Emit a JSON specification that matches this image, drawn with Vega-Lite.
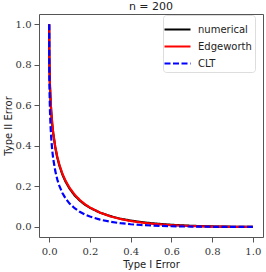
{
  "$schema": "https://vega.github.io/schema/vega-lite/v6.json",
  "width": 224,
  "height": 223,
  "autosize": {"type": "none"},
  "padding": {"left": 39, "top": 14, "right": 3, "bottom": 35},
  "title": {"text": "n = 200", "font": "DejaVu Sans", "fontSize": 11, "fontWeight": "normal", "color": "#222", "offset": 2},
  "data": {"values": [
    {"a": 0, "b": 1, "s": "numerical"},
    {"a": 0.0005, "b": 0.873, "s": "numerical"},
    {"a": 0.001, "b": 0.826, "s": "numerical"},
    {"a": 0.002, "b": 0.767, "s": "numerical"},
    {"a": 0.004, "b": 0.692, "s": "numerical"},
    {"a": 0.007, "b": 0.621, "s": "numerical"},
    {"a": 0.01, "b": 0.57, "s": "numerical"},
    {"a": 0.015, "b": 0.507, "s": "numerical"},
    {"a": 0.02, "b": 0.46, "s": "numerical"},
    {"a": 0.03, "b": 0.391, "s": "numerical"},
    {"a": 0.04, "b": 0.341, "s": "numerical"},
    {"a": 0.05, "b": 0.303, "s": "numerical"},
    {"a": 0.065, "b": 0.258, "s": "numerical"},
    {"a": 0.08, "b": 0.224, "s": "numerical"},
    {"a": 0.1, "b": 0.189, "s": "numerical"},
    {"a": 0.125, "b": 0.155, "s": "numerical"},
    {"a": 0.15, "b": 0.13, "s": "numerical"},
    {"a": 0.175, "b": 0.11, "s": "numerical"},
    {"a": 0.2, "b": 0.094, "s": "numerical"},
    {"a": 0.25, "b": 0.07, "s": "numerical"},
    {"a": 0.3, "b": 0.053, "s": "numerical"},
    {"a": 0.35, "b": 0.04, "s": "numerical"},
    {"a": 0.4, "b": 0.031, "s": "numerical"},
    {"a": 0.45, "b": 0.024, "s": "numerical"},
    {"a": 0.5, "b": 0.018, "s": "numerical"},
    {"a": 0.6, "b": 0.01, "s": "numerical"},
    {"a": 0.7, "b": 0.005, "s": "numerical"},
    {"a": 0.8, "b": 0.002, "s": "numerical"},
    {"a": 0.9, "b": 0.0005, "s": "numerical"},
    {"a": 1.0, "b": 0, "s": "numerical"},
    {"a": 0, "b": 1, "s": "Edgeworth"},
    {"a": 0.0005, "b": 0.873, "s": "Edgeworth"},
    {"a": 0.001, "b": 0.826, "s": "Edgeworth"},
    {"a": 0.002, "b": 0.767, "s": "Edgeworth"},
    {"a": 0.004, "b": 0.692, "s": "Edgeworth"},
    {"a": 0.007, "b": 0.621, "s": "Edgeworth"},
    {"a": 0.01, "b": 0.57, "s": "Edgeworth"},
    {"a": 0.015, "b": 0.508, "s": "Edgeworth"},
    {"a": 0.02, "b": 0.462, "s": "Edgeworth"},
    {"a": 0.03, "b": 0.394, "s": "Edgeworth"},
    {"a": 0.04, "b": 0.345, "s": "Edgeworth"},
    {"a": 0.05, "b": 0.307, "s": "Edgeworth"},
    {"a": 0.065, "b": 0.262, "s": "Edgeworth"},
    {"a": 0.08, "b": 0.228, "s": "Edgeworth"},
    {"a": 0.1, "b": 0.193, "s": "Edgeworth"},
    {"a": 0.125, "b": 0.159, "s": "Edgeworth"},
    {"a": 0.15, "b": 0.133, "s": "Edgeworth"},
    {"a": 0.175, "b": 0.112, "s": "Edgeworth"},
    {"a": 0.2, "b": 0.0955, "s": "Edgeworth"},
    {"a": 0.25, "b": 0.07, "s": "Edgeworth"},
    {"a": 0.3, "b": 0.052, "s": "Edgeworth"},
    {"a": 0.35, "b": 0.0388, "s": "Edgeworth"},
    {"a": 0.4, "b": 0.0289, "s": "Edgeworth"},
    {"a": 0.45, "b": 0.0215, "s": "Edgeworth"},
    {"a": 0.5, "b": 0.0158, "s": "Edgeworth"},
    {"a": 0.6, "b": 0.0081, "s": "Edgeworth"},
    {"a": 0.7, "b": 0.0037, "s": "Edgeworth"},
    {"a": 0.8, "b": 0.0014, "s": "Edgeworth"},
    {"a": 0.9, "b": 0.0003, "s": "Edgeworth"},
    {"a": 1.0, "b": 0, "s": "Edgeworth"},
    {"a": 0, "b": 1, "s": "CLT"},
    {"a": 0.0005, "b": 0.791, "s": "CLT"},
    {"a": 0.001, "b": 0.729, "s": "CLT"},
    {"a": 0.002, "b": 0.655, "s": "CLT"},
    {"a": 0.004, "b": 0.568, "s": "CLT"},
    {"a": 0.007, "b": 0.491, "s": "CLT"},
    {"a": 0.01, "b": 0.439, "s": "CLT"},
    {"a": 0.015, "b": 0.378, "s": "CLT"},
    {"a": 0.02, "b": 0.335, "s": "CLT"},
    {"a": 0.03, "b": 0.275, "s": "CLT"},
    {"a": 0.04, "b": 0.233, "s": "CLT"},
    {"a": 0.05, "b": 0.202, "s": "CLT"},
    {"a": 0.065, "b": 0.167, "s": "CLT"},
    {"a": 0.08, "b": 0.141, "s": "CLT"},
    {"a": 0.1, "b": 0.115, "s": "CLT"},
    {"a": 0.125, "b": 0.0918, "s": "CLT"},
    {"a": 0.15, "b": 0.0744, "s": "CLT"},
    {"a": 0.175, "b": 0.0612, "s": "CLT"},
    {"a": 0.2, "b": 0.0507, "s": "CLT"},
    {"a": 0.25, "b": 0.0355, "s": "CLT"},
    {"a": 0.3, "b": 0.0252, "s": "CLT"},
    {"a": 0.35, "b": 0.0181, "s": "CLT"},
    {"a": 0.4, "b": 0.013, "s": "CLT"},
    {"a": 0.45, "b": 0.0093, "s": "CLT"},
    {"a": 0.5, "b": 0.0066, "s": "CLT"},
    {"a": 0.6, "b": 0.0031, "s": "CLT"},
    {"a": 0.7, "b": 0.0013, "s": "CLT"},
    {"a": 0.8, "b": 0.0004, "s": "CLT"},
    {"a": 0.9, "b": 0.0001, "s": "CLT"},
    {"a": 1.0, "b": 0, "s": "CLT"}
  ]},
  "mark": {"type": "line", "strokeWidth": 2.2, "clip": true},
  "encoding": {
    "x": {
      "field": "a", "type": "quantitative",
      "scale": {"domain": [-0.05, 1.05], "nice": false, "zero": false},
      "axis": {"title": "Type I Error", "values": [0, 0.2, 0.4, 0.6, 0.8, 1.0], "format": ".1f"}
    },
    "y": {
      "field": "b", "type": "quantitative",
      "scale": {"domain": [-0.05, 1.05], "nice": false, "zero": false},
      "axis": {"title": "Type II Error", "values": [0, 0.2, 0.4, 0.6, 0.8, 1.0], "format": ".1f"}
    },
    "color": {
      "field": "s", "type": "nominal",
      "scale": {"domain": ["numerical", "Edgeworth", "CLT"], "range": ["#000000", "#ff0000", "#0000ff"]},
      "legend": {"title": null, "orient": "none", "legendX": 124, "legendY": 1}
    },
    "strokeDash": {
      "field": "s", "type": "nominal",
      "scale": {"domain": ["numerical", "Edgeworth", "CLT"], "range": [[1, 0], [1, 0], [6, 2.5]]},
      "legend": {"title": null, "orient": "none", "legendX": 124, "legendY": 1}
    }
  },
  "config": {
    "view": {"stroke": "#555", "strokeWidth": 1},
    "axis": {
      "grid": false, "domain": false,
      "tickColor": "#555", "tickSize": 5, "tickWidth": 1,
      "labelFont": "DejaVu Serif", "labelFontSize": 10, "labelColor": "#333",
      "titleFont": "DejaVu Sans", "titleFontSize": 10, "titleFontWeight": "normal", "titleColor": "#222"
    },
    "axisX": {"labelPadding": 4, "titlePadding": 3},
    "axisY": {"labelPadding": 3, "titlePadding": 2},
    "legend": {
      "symbolType": "M-1.3,0H1.3", "symbolSize": 400, "symbolStrokeWidth": 2.2,
      "labelFont": "DejaVu Sans", "labelFontSize": 10, "labelColor": "#222",
      "strokeColor": "#ddd", "fillColor": "white", "cornerRadius": 3,
      "padding": 3, "rowPadding": -3.5, "labelOffset": 9
    }
  }
}
